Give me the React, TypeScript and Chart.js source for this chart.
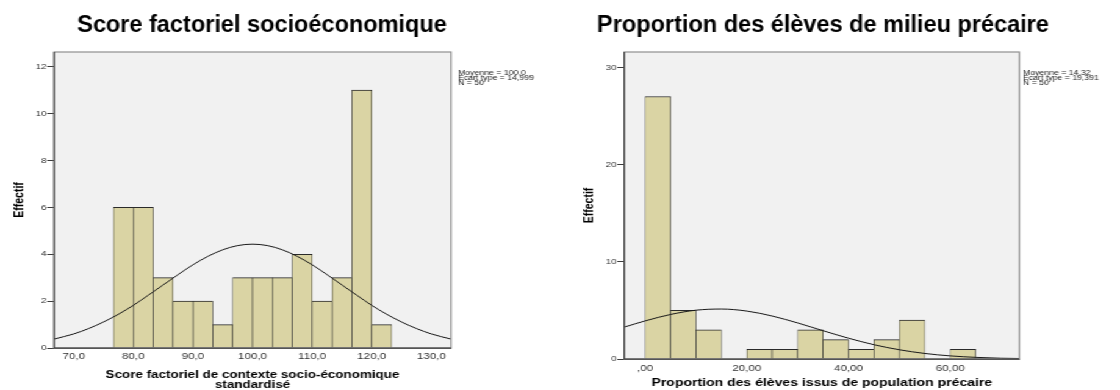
import React, { useEffect, useRef } from 'react';
import { Chart, registerables } from 'chart.js';

Chart.register(...registerables);

// ---------- data : left histogram ----------
const leftTitle = 'Score factoriel socioéconomique';
const leftXTitle = ['Score factoriel de contexte socio-économique', 'standardisé'];
const leftYTitle = 'Effectif';
const leftBinCenters = [78.33, 81.67, 85.0, 88.33, 91.67, 95.0, 98.33, 101.67, 105.0, 108.33, 111.67, 115.0, 118.33, 121.67];
const leftCounts = [6, 6, 3, 2, 2, 1, 3, 3, 3, 4, 2, 3, 11, 1];
const leftXTicks = [70, 80, 90, 100, 110, 120, 130];
const leftXTickLabels = ['70,0', '80,0', '90,0', '100,0', '110,0', '120,0', '130,0'];
const leftYTicks = [0, 2, 4, 6, 8, 10, 12];
const leftXRange = [66.7, 133.3];
const leftYMax = 12.63;
const leftCurveX = [66.7, 70, 72.5, 75, 77.5, 80, 82.5, 85, 87.5, 90, 92.5, 95, 97.5, 100, 102.5, 105, 107.5, 110, 112.5, 115, 117.5, 120, 122.5, 125, 127.5, 130, 133.3];
const leftCurveY = [0.38, 0.6, 0.83, 1.11, 1.44, 1.82, 2.25, 2.69, 3.13, 3.55, 3.91, 4.19, 4.37, 4.43, 4.37, 4.19, 3.91, 3.55, 3.13, 2.69, 2.25, 1.82, 1.44, 1.11, 0.83, 0.6, 0.38];
const leftStats = ['Moyenne = 100,0', 'Ecart type = 14,999', 'N = 50'];

// ---------- data : right histogram ----------
const rightTitle = 'Proportion des élèves de milieu précaire';
const rightXTitle = 'Proportion des élèves issus de population précaire';
const rightYTitle = 'Effectif';
const rightBinCenters = [2.5, 7.5, 12.5, 17.5, 22.5, 27.5, 32.5, 37.5, 42.5, 47.5, 52.5, 57.5, 62.5];
const rightCounts = [27, 5, 3, 0, 1, 1, 3, 2, 1, 2, 4, 0, 1];
const rightXTicks = [0, 20, 40, 60];
const rightXTickLabels = [',00', '20,00', '40,00', '60,00'];
const rightYTicks = [0, 10, 20, 30];
const rightXRange = [-4.1, 73.6];
const rightYMax = 31.58;
const rightCurveX = [-4.1, 0, 5, 10, 15, 20, 25, 30, 35, 40, 45, 50, 55, 60, 65, 70, 73.6];
const rightCurveY = [3.28, 3.92, 4.58, 5.02, 5.14, 4.93, 4.42, 3.71, 2.91, 2.14, 1.47, 0.95, 0.57, 0.32, 0.17, 0.08, 0.05];
const rightStats = ['Moyenne = 14,32', 'Ecart type = 19,391', 'N = 50'];

// ---------- layout / style ----------
const STRETCH = 1120 / 918;
const CANVAS_W = 459;
const CANVAS_H = 390;
const FONT = '"Liberation Sans", Arial, Helvetica, sans-serif';
const BAR_FILL = '#DAD4A4';
const BAR_LINE = '#2a2a2a';
const PLOT_BG = '#F1F1F1';

const extrasPlugin: any = {
  id: 'histExtras',
  beforeDraw(chart: any) {
    const { ctx, chartArea: a } = chart;
    ctx.save();
    ctx.fillStyle = PLOT_BG;
    ctx.fillRect(a.left, a.top, a.right - a.left, a.bottom - a.top);
    ctx.restore();
  },
  afterDatasetsDraw(chart: any) {
    const { ctx, chartArea: a } = chart;
    ctx.save();
    ctx.strokeStyle = '#8f8f8f';
    ctx.lineWidth = 1.2;
    ctx.strokeRect(a.left, a.top, a.right - a.left, a.bottom - a.top);
    ctx.strokeStyle = '#3c3c3c';
    ctx.lineWidth = 1;
    ctx.beginPath();
    ctx.moveTo(a.left, a.top);
    ctx.lineTo(a.left, a.bottom);
    ctx.lineTo(a.right, a.bottom);
    ctx.stroke();
    ctx.restore();
  },
  afterDraw(chart: any, _a: any, opts: any) {
    const { ctx } = chart;
    ctx.save();
    // main title, drawn without the horizontal stretch
    ctx.save();
    ctx.translate(opts.titleX / STRETCH, opts.titleY);
    ctx.scale(1 / STRETCH, 1);
    ctx.font = `bold ${opts.titleSize}px ${FONT}`;
    ctx.fillStyle = '#000';
    ctx.textAlign = 'center';
    ctx.textBaseline = 'alphabetic';
    ctx.fillText(opts.title, 0, 0);
    ctx.restore();
    // statistics box (narrow, wide-set text as in the original)
    (opts.stats as string[]).forEach((s, i) => {
      ctx.save();
      ctx.translate(opts.statsX, opts.statsY + i * 5.3);
      ctx.scale(1.12, 1);
      ctx.font = `6.4px ${FONT}`;
      ctx.fillStyle = '#222';
      ctx.textAlign = 'left';
      ctx.textBaseline = 'alphabetic';
      ctx.fillText(s, 0, 0);
      ctx.restore();
    });
    ctx.restore();
  },
};

function makeConfig(s: any): any {
  return {
    type: 'bar',
    data: {
      datasets: [
        {
          type: 'line',
          data: s.curveX.map((x: number, i: number) => ({ x, y: s.curveY[i] })),
          borderColor: '#1a1a1a',
          borderWidth: 1,
          pointRadius: 0,
          cubicInterpolationMode: 'monotone',
          fill: false,
          order: 0,
        },
        {
          type: 'bar',
          data: s.binCenters.map((x: number, i: number) => ({ x, y: s.counts[i] })),
          backgroundColor: BAR_FILL,
          borderColor: BAR_LINE,
          borderWidth: { top: 1, left: 0.6, right: 0.6, bottom: 0 },
          borderSkipped: false,
          barPercentage: 1,
          categoryPercentage: 1,
          grouped: false,
          order: 1,
        },
      ],
    },
    options: {
      animation: false,
      responsive: false,
      devicePixelRatio: 1,
      layout: { padding: { left: 0, top: s.L.top, right: s.L.right, bottom: 0 } },
      plugins: {
        legend: { display: false },
        tooltip: { enabled: false },
        title: { display: false },
        histExtras: {
          title: s.title,
          titleX: s.L.titleX,
          titleY: 31.5,
          titleSize: 23.5,
          stats: s.stats,
          statsX: s.L.statsX,
          statsY: 74.8,
        },
      },
      scales: {
        x: {
          type: 'linear',
          min: s.xRange[0],
          max: s.xRange[1],
          offset: false,
          afterFit: (sc: any) => { sc.height = s.L.xHeight; },
          afterBuildTicks: (sc: any) => { sc.ticks = s.xTicks.map((v: number) => ({ value: v })); },
          ticks: {
            callback: (_v: any, i: number) => s.xTickLabels[i],
            font: { family: FONT, size: 9.5 },
            color: '#333',
            padding: s.L.xTickPad,
            maxRotation: 0,
            autoSkip: false,
          },
          grid: { display: false, drawTicks: false },
          border: { display: true, color: '#3c3c3c', width: 1 },
          title: {
            display: true,
            text: s.xTitle,
            color: '#000',
            font: { family: FONT, size: s.L.xTitleSize, weight: 'bold', lineHeight: s.L.xTitleLH },
            padding: { top: 0, bottom: s.L.xTitlePad },
          },
        },
        y: {
          type: 'linear',
          min: 0,
          max: s.yMax,
          afterFit: (sc: any) => { sc.width = s.L.yWidth; },
          afterBuildTicks: (sc: any) => { sc.ticks = s.yTicks.map((v: number) => ({ value: v })); },
          ticks: {
            font: { family: FONT, size: 8 },
            color: '#333',
            padding: 0.5,
            autoSkip: false,
          },
          grid: { display: true, drawOnChartArea: false, drawTicks: true, tickLength: 5.7, color: '#3c3c3c', lineWidth: 1 },
          border: { display: true, color: '#3c3c3c', width: 1 },
          title: {
            display: true,
            text: s.yTitle,
            color: '#000',
            font: { family: FONT, size: 10.5, weight: 'bold' },
            padding: { top: s.L.yTitlePad, bottom: 0 },
          },
        },
      },
    },
    plugins: [extrasPlugin],
  };
}

const leftSpec = {
  title: leftTitle, xTitle: leftXTitle, yTitle: leftYTitle,
  binCenters: leftBinCenters, counts: leftCounts,
  xTicks: leftXTicks, xTickLabels: leftXTickLabels, yTicks: leftYTicks,
  xRange: leftXRange, yMax: leftYMax,
  curveX: leftCurveX, curveY: leftCurveY, stats: leftStats,
  L: { top: 52, right: 89.3, yWidth: 44.3, xHeight: 42, titleX: 262, statsX: 375.4, yTitlePad: 9.7, xTickPad: 2.6, xTitleSize: 11, xTitleLH: 0.84, xTitlePad: 0.8 },
};

const rightSpec = {
  title: rightTitle, xTitle: rightXTitle, yTitle: rightYTitle,
  binCenters: rightBinCenters, counts: rightCounts,
  xTicks: rightXTicks, xTickLabels: rightXTickLabels, yTicks: rightYTicks,
  xRange: rightXRange, yMax: rightYMax,
  curveX: rightCurveX, curveY: rightCurveY, stats: rightStats,
  L: { top: 52, right: 82.5, yWidth: 52.7, xHeight: 31, titleX: 263, statsX: 379.5, yTitlePad: 18.3, xTickPad: 3.6, xTitleSize: 11.5, xTitleLH: 1.2, xTitlePad: 0.6 },
};

function Hist({ spec, left }: { spec: any; left: number }) {
  const ref = useRef<HTMLCanvasElement>(null);
  useEffect(() => {
    const chart = new Chart(ref.current as HTMLCanvasElement, makeConfig(spec));
    return () => chart.destroy();
  }, [spec]);
  return (
    <canvas
      ref={ref}
      width={CANVAS_W}
      height={CANVAS_H}
      style={{ position: 'absolute', left, top: 0, width: CANVAS_W, height: CANVAS_H }}
    />
  );
}

export default function App() {
  return (
    <div
      style={{
        position: 'absolute',
        left: 0,
        top: 0,
        width: CANVAS_W * 2,
        height: CANVAS_H,
        background: '#fff',
        transform: `scaleX(${STRETCH})`,
        transformOrigin: '0 0',
      }}
    >
      <Hist spec={leftSpec} left={0} />
      <Hist spec={rightSpec} left={CANVAS_W} />
    </div>
  );
}
